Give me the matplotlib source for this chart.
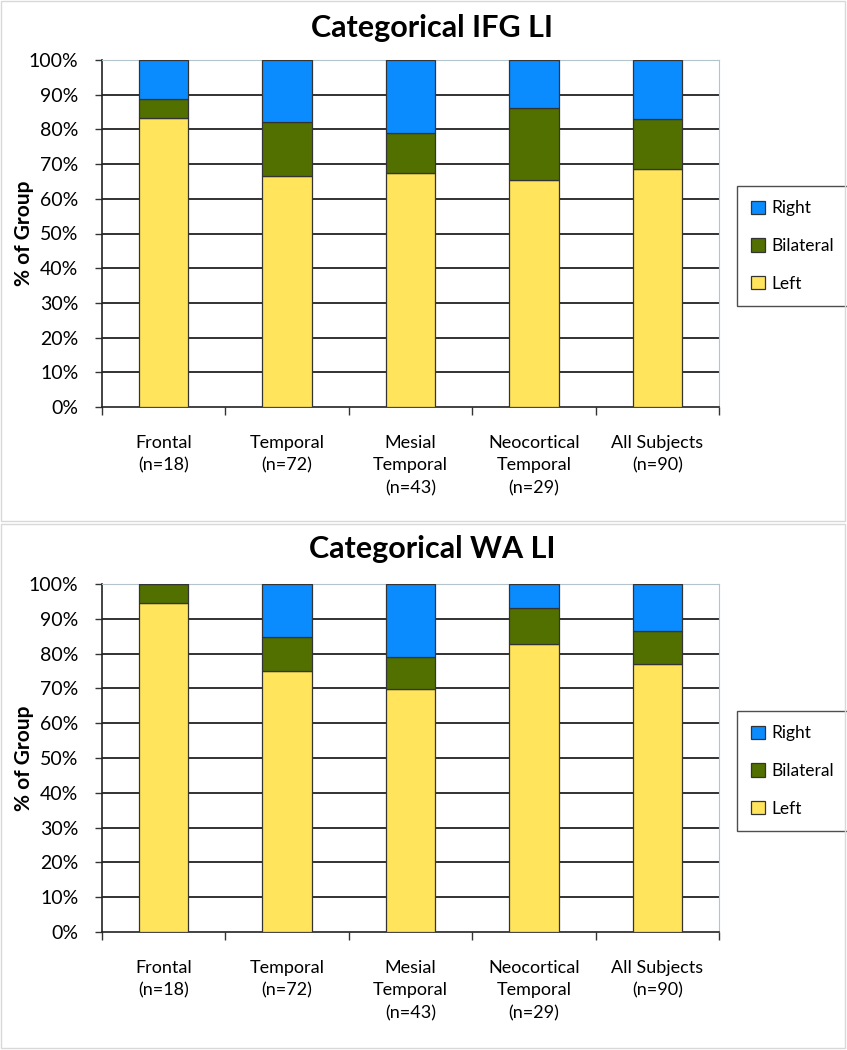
import matplotlib.pyplot as plt
import matplotlib.patches as mpatches
import numpy as np

plt.rcParams['font.family'] = ['Lato', 'DejaVu Sans']

# Data (percent of group)
categories = ['Frontal\n(n=18)', 'Temporal\n(n=72)', 'Mesial\nTemporal\n(n=43)',
              'Neocortical\nTemporal\n(n=29)', 'All Subjects\n(n=90)']

ifg_left = [83.3, 66.7, 67.4, 65.5, 68.7]
ifg_bilateral = [5.6, 15.3, 11.7, 20.7, 14.3]
ifg_right = [11.1, 18.0, 20.9, 13.8, 17.0]

wa_left = [94.4, 75.0, 69.8, 82.8, 77.0]
wa_bilateral = [5.6, 9.7, 9.3, 10.3, 9.5]
wa_right = [0.0, 15.3, 20.9, 6.9, 13.5]

titles = ['Categorical IFG LI', 'Categorical WA LI']
c_left = '#FFE45C'
c_bil = '#527000'
c_right = '#0A8CFF'

W, H = 847, 1050
fig = plt.figure(figsize=(W / 100, H / 100), dpi=100)

# panel frames
for y0, y1 in [(1, 521), (524, 1048)]:
    fig.patches.append(mpatches.Rectangle((1 / W, 1 - y1 / H), 844 / W, (y1 - y0) / H,
                                          transform=fig.transFigure, fill=False,
                                          edgecolor='#d8d8d8', linewidth=1))

panels = [
    (60, 407, 28, 246, ifg_left, ifg_bilateral, ifg_right),
    (584, 932, 549, 771, wa_left, wa_bilateral, wa_right),
]

x = np.arange(len(categories))
for i, (top, bot, ty, ly, left, bil, right) in enumerate(panels):
    ax = fig.add_axes([102 / W, 1 - bot / H, 617 / W, (bot - top) / H])
    left = np.array(left)
    bil = np.array(bil)
    right = np.array(right)
    kw = dict(width=0.4, edgecolor='#333333', linewidth=0.9, zorder=3)
    ax.bar(x, left, color=c_left, label='Left', **kw)
    ax.bar(x, bil, bottom=left, color=c_bil, label='Bilateral', **kw)
    ax.bar(x, right, bottom=left + bil, color=c_right, label='Right', **kw)

    ax.set_xlim(-0.5, len(categories) - 0.5)
    ax.set_ylim(0, 100)
    ax.set_yticks(np.arange(0, 101, 10))
    ax.set_yticklabels([f'{v}%' for v in range(0, 101, 10)], fontsize=14)
    for yv in range(10, 100, 10):
        ax.axhline(yv, color='#222222', linewidth=1.3, zorder=1)

    ax.set_xticks(x)
    ax.set_xticklabels(categories, fontsize=13, linespacing=1.5, va='top')
    ax.tick_params(axis='x', which='major', length=0, pad=20)
    ax.set_xticks(np.arange(-0.5, len(categories), 1), minor=True)
    ax.tick_params(axis='x', which='minor', length=6, width=1, color='#333333')
    ax.tick_params(axis='y', length=5, width=1, color='#333333', pad=12)

    ax.spines['left'].set_color('#222222')
    ax.spines['bottom'].set_color('#222222')
    ax.spines['left'].set_linewidth(1.2)
    ax.spines['bottom'].set_linewidth(1.2)
    ax.spines['top'].set_color('#b4c4cc')
    ax.spines['right'].set_color('#b4c4cc')

    ax.set_ylabel('% of Group', fontsize=15, fontweight='bold', va='center')
    ax.yaxis.set_label_coords(-0.127, 0.5)

    fig.text(432 / W, 1 - ty / H, titles[i], fontsize=22, fontweight='bold',
             ha='center', va='center')

    handles, labels = ax.get_legend_handles_labels()
    leg = ax.legend(handles[::-1], labels[::-1], loc='center left',
                    bbox_to_anchor=(737 / W, 1 - ly / H), bbox_transform=fig.transFigure,
                    fontsize=12.5, frameon=True, fancybox=False, edgecolor='#222222',
                    handlelength=0.8, handleheight=0.8, handletextpad=0.4,
                    labelspacing=1.25, borderpad=0.8, borderaxespad=0)
    leg.get_frame().set_linewidth(1.0)

fig.savefig('out.png', dpi=100)
